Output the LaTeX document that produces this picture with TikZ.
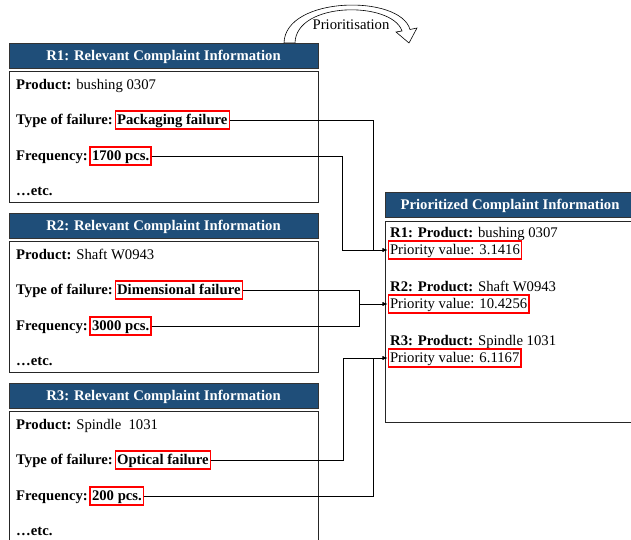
\documentclass[tikz,border=0pt]{standalone}
\usepackage{fontspec}
\setmainfont{Liberation Serif}
\usetikzlibrary{arrows.meta, positioning}
\definecolor{hdrblue}{RGB}{31,78,121}

\begin{document}
\begin{tikzpicture}[x=1pt, y=-1pt, font=\fontsize{14.7}{17}\selectfont,
  hdr/.style={draw=black!80, line width=.6pt, fill=hdrblue, text=white, minimum width=309pt, minimum height=25pt, inner sep=0pt, text height=11.5pt, text depth=1.5pt},
  body/.style={draw=black!85, line width=.8pt, minimum width=309pt, minimum height=131pt, inner sep=0pt},
  txt/.style={anchor=west, inner sep=0pt, text height=11.5pt, text depth=2.5pt},
  redbox/.style={draw=red, line width=1.5pt, inner sep=1.8pt, text height=11.5pt, text depth=2.5pt},
  conn/.style={line width=.8pt, -{Latex[length=5pt, width=4pt]}}]
\clip (0,0) rectangle (631,539);
% relevant complaint information, one panel per complaint
\foreach \r/\prod/\fail/\freq/\ytop in {1/bushing 0307/Packaging failure/1700 pcs./43, 2/Shaft W0943/Dimensional failure/3000 pcs./213, 3/Spindle\ \ 1031/Optical failure/200 pcs./383}{
    \node[hdr] (h\r) at (163.5,{\ytop+12.5}) {\textbf{R\r: Relevant Complaint Information}};
    \node[body, anchor=north] (b\r) at (163.5,{\ytop+28}) {};
    \node[txt] (p\r) at (16,{\ytop+42}) {\textbf{Product:} \prod};
    \node[txt] (tl\r) at (16,{\ytop+77}) {\textbf{Type of failure:}};
    \node[redbox, right=1.5pt of tl\r] (t\r) {\textbf{\fail}};
    \node[txt] (fl\r) at (16,{\ytop+113}) {\textbf{Frequency:}};
    \node[redbox, right=1.5pt of fl\r] (f\r) {\textbf{\freq}};
    \node[txt] (e\r) at (16,{\ytop+148}) {\textbf{…etc.}};}
% prioritized list
\node[hdr, minimum width=250pt] (ph) at (510,204.5) {\textbf{Prioritized Complaint Information}};
\node[body, minimum width=250pt, minimum height=201pt, anchor=north] (pb) at (510,221) {};
\foreach \r/\prod/\val/\ypos in {1/bushing 0307/3.1416/233, 2/Shaft W0943/10.4256/287, 3/Spindle 1031/6.1167/341}{
    \node[txt] (q\r) at (390,\ypos) {\textbf{R\r: Product:} \prod};
    \node[redbox, anchor=west] (v\r) at (387.5,{\ypos+17}) {Priority value: \val};}
\foreach \s/\t/\d in {t1/v1/14, f1/v1/45, t2/v2/28, f2/v2/28, t3/v3/44, f3/v3/14}{
    \draw[conn] (\s.east) -| ([xshift=-\d pt]\t.west) -- (\t.west);}
% curved block arrow
\draw[fill=white, line width=.6pt] (284,43) .. controls (285,-4) and (400,-6) .. (410,29.5) -- (417,28) -- (409,43) -- (396,32) -- (402,31) .. controls (392,1) and (296,1) .. (295,43) -- cycle;
\node (prio) at (351,25) {Prioritisation};
\end{tikzpicture}
\end{document}
